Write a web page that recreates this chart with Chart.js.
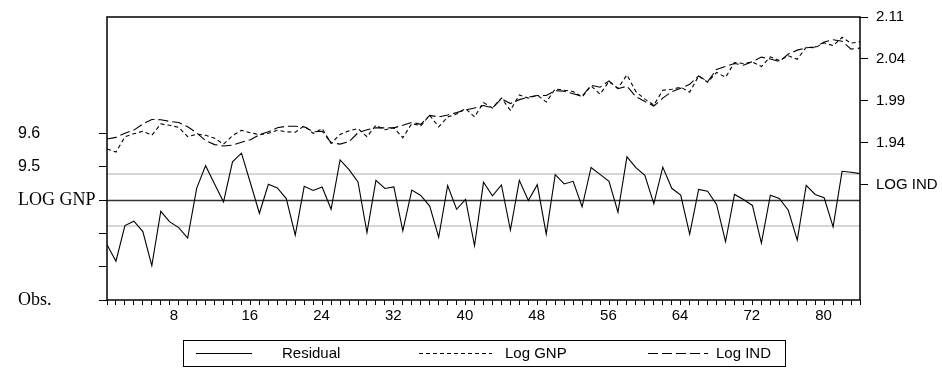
<!DOCTYPE html>
<html>
<head>
<meta charset="utf-8">
<script src="https://cdn.jsdelivr.net/npm/chart.js@4.4.1/dist/chart.umd.min.js"></script>
<style>
  html, body { margin: 0; padding: 0; background: #fff; }
  #wrap { width: 942px; height: 371px; }
</style>
</head>
<body>
<div id="wrap"><canvas id="resChart"></canvas></div>
<script>
// observations 1..85
const obs = Array.from({ length: 85 }, (_, i) => i + 1);

const residual = [
  -0.0268, -0.0367, -0.0153, -0.0127, -0.0189, -0.0393, -0.0067, -0.0131, -0.0165, -0.0228,
  0.0071, 0.0207, 0.0097, -0.0010, 0.0230, 0.0282, 0.0103, -0.0079, 0.0095, 0.0073,
  0.0009, -0.0210, 0.0083, 0.0058, 0.0079, -0.0055, 0.0242, 0.0183, 0.0109, -0.0195,
  0.0119, 0.0070, 0.0079, -0.0185, 0.0060, 0.0028, -0.0036, -0.0224, 0.0088, -0.0055,
  0.0004, -0.0274, 0.0107, 0.0026, 0.0091, -0.0180, 0.0119, -0.0002, 0.0093, -0.0204,
  0.0153, 0.0097, 0.0113, -0.0040, 0.0196, 0.0155, 0.0113, -0.0073, 0.0260, 0.0195,
  0.0149, -0.0021, 0.0198, 0.0071, 0.0030, -0.0204, 0.0064, 0.0054, -0.0026, -0.0250,
  0.0034, 0.0004, -0.0032, -0.0258, 0.0030, 0.0010, -0.0061, -0.0240, 0.0088, 0.0034,
  0.0014, -0.0161, 0.0173, 0.0167, 0.0159
];

const logGNP = [
  1.9326, 1.9290, 1.9473, 1.9508, 1.9538, 1.9491, 1.9626, 1.9609, 1.9585, 1.9473,
  1.9503, 1.9491, 1.9455, 1.9385, 1.9485, 1.9550, 1.9520, 1.9497, 1.9514, 1.9550,
  1.9532, 1.9526, 1.9603, 1.9512, 1.9571, 1.9394, 1.9500, 1.9544, 1.9571, 1.9473,
  1.9609, 1.9556, 1.9579, 1.9461, 1.9630, 1.9603, 1.9729, 1.9591, 1.9709, 1.9744,
  1.9809, 1.9709, 1.9880, 1.9815, 1.9933, 1.9788, 1.9972, 1.9933, 1.9968, 1.9886,
  2.0043, 2.0027, 2.0012, 1.9945, 2.0080, 1.9980, 2.0130, 2.0051, 2.0210, 2.0010,
  1.9921, 1.9850, 2.0027, 2.0039, 2.0063, 2.0004, 2.0198, 2.0122, 2.0240, 2.0181,
  2.0358, 2.0346, 2.0363, 2.0310, 2.0425, 2.0381, 2.0437, 2.0396, 2.0540, 2.0534,
  2.0593, 2.0558, 2.0658, 2.0588, 2.0605
];

const logIND = [
  1.9446, 1.9465, 1.9514, 1.9552, 1.9626, 1.9679, 1.9676, 1.9656, 1.9642, 1.9591,
  1.9520, 1.9426, 1.9379, 1.9363, 1.9373, 1.9408, 1.9438, 1.9497, 1.9532, 1.9579,
  1.9599, 1.9597, 1.9591, 1.9532, 1.9538, 1.9402, 1.9385, 1.9414, 1.9520, 1.9556,
  1.9579, 1.9579, 1.9579, 1.9609, 1.9644, 1.9621, 1.9727, 1.9709, 1.9733, 1.9760,
  1.9792, 1.9815, 1.9845, 1.9815, 1.9927, 1.9868, 1.9915, 1.9945, 1.9965, 1.9965,
  2.0021, 2.0016, 1.9986, 1.9957, 2.0086, 2.0063, 2.0139, 2.0045, 2.0075, 1.9951,
  1.9892, 1.9839, 1.9933, 2.0010, 2.0051, 2.0098, 2.0198, 2.0130, 2.0275, 2.0310,
  2.0346, 2.0326, 2.0369, 2.0422, 2.0399, 2.0369, 2.0458, 2.0505, 2.0534, 2.0543,
  2.0602, 2.0629, 2.0611, 2.0517, 2.0529
];

// residual +/- 1 S.E. band
const residualSD = 0.0155;

// axis ticks (as printed on the original)
const leftTickValues = [-0.06, -0.04, -0.02, 0, 0.02, 0.04];
const leftTickLabels = ["Obs.", "", "", "LOG GNP", "9.5", "9.6"];
const rightTickValues = [1.89, 1.94, 1.99, 2.04, 2.09];
const rightTickLabels = ["LOG IND", "1.94", "1.99", "2.04", "2.11"];
const xLabelStep = 8;

const sans = '"Liberation Sans", Arial, sans-serif';
const serif = '"Liberation Serif", "Times New Roman", serif';

const labelFor = (values, labels, v) => {
  const i = values.findIndex(t => Math.abs(t - v) < 1e-9);
  return i >= 0 ? labels[i] : '';
};

// grey band lines + zero line, then the plot frame
const residualGuides = {
  id: 'residualGuides',
  beforeDatasetsDraw(chart) {
    const { ctx, chartArea: a, scales: { y } } = chart;
    ctx.save();
    ctx.lineWidth = 2;
    ctx.strokeStyle = '#d6d6d6';
    [residualSD, -residualSD].forEach(v => {
      const py = Math.round(y.getPixelForValue(v));
      ctx.beginPath(); ctx.moveTo(a.left, py); ctx.lineTo(a.right, py); ctx.stroke();
    });
    ctx.lineWidth = 1.3;
    ctx.strokeStyle = '#333';
    const pz = Math.round(y.getPixelForValue(0)) + 0.5;
    ctx.beginPath(); ctx.moveTo(a.left, pz); ctx.lineTo(a.right, pz); ctx.stroke();
    ctx.restore();
  },
  afterDatasetsDraw(chart) {
    const { ctx, chartArea: a } = chart;
    ctx.save();
    ctx.lineWidth = 1.5;
    ctx.strokeStyle = '#000';
    ctx.strokeRect(a.left, a.top, a.right - a.left, a.bottom - a.top);
    ctx.restore();
  }
};

// boxed legend under the plot
const boxedLegend = {
  id: 'boxedLegend',
  afterDraw(chart) {
    const ctx = chart.ctx;
    const box = { left: 183, top: 340, width: 602, height: 26 };
    // sample start, sample end, text x for each series
    const slots = [[196, 252, 282], [419, 492, 505], [648, 708, 716]];
    const mid = box.top + box.height / 2 + 0.5;
    ctx.save();
    ctx.strokeStyle = '#000';
    ctx.lineWidth = 1;
    ctx.strokeRect(box.left + 0.5, box.top + 0.5, box.width, box.height);
    ctx.font = '15px ' + sans;
    ctx.textBaseline = 'middle';
    ctx.fillStyle = '#000';
    chart.data.datasets.forEach((ds, i) => {
      const [x0, x1, tx] = slots[i];
      ctx.setLineDash(ds.borderDash || []);
      ctx.beginPath(); ctx.moveTo(x0, mid); ctx.lineTo(x1, mid); ctx.stroke();
      ctx.setLineDash([]);
      ctx.fillText(ds.label, tx, mid);
    });
    ctx.restore();
  }
};

new Chart(document.getElementById('resChart'), {
  type: 'line',
  data: {
    labels: obs,
    datasets: [
      { label: 'Residual', data: residual, yAxisID: 'y', borderColor: '#000', borderWidth: 1.1, pointRadius: 0, tension: 0 },
      { label: 'Log GNP', data: logGNP, yAxisID: 'y1', borderColor: '#000', borderWidth: 1.1, borderDash: [4, 3], pointRadius: 0, tension: 0 },
      { label: 'Log IND', data: logIND, yAxisID: 'y1', borderColor: '#000', borderWidth: 1.1, borderDash: [10, 4], pointRadius: 0, tension: 0 }
    ]
  },
  options: {
    responsive: true,
    maintainAspectRatio: false,
    animation: false,
    layout: { padding: { left: 18, right: 0, top: 14, bottom: 41 } },
    plugins: { legend: { display: false }, tooltip: { enabled: false } },
    scales: {
      x: {
        type: 'category',
        grid: { drawOnChartArea: false, drawTicks: true, tickLength: 5, color: '#000' },
        border: { display: false },
        ticks: {
          autoSkip: false,
          maxRotation: 0,
          align: 'start',
          padding: 2,
          color: '#000',
          font: { family: sans, size: 15 },
          callback(v) {
            const l = this.getLabelForValue(v);
            return l % xLabelStep === 0 ? String(l) : '';
          }
        },
        afterFit(s) { s.height = 30; }
      },
      y: {
        position: 'left',
        min: -0.06,
        max: 0.11,
        grid: { drawOnChartArea: false, tickLength: 8, color: '#000' },
        border: { display: false },
        afterBuildTicks(s) { s.ticks = leftTickValues.map(v => ({ value: v })); },
        ticks: {
          crossAlign: 'far',
          padding: 4,
          color: '#000',
          callback: v => labelFor(leftTickValues, leftTickLabels, v),
          font: c => {
            const l = c.tick ? labelFor(leftTickValues, leftTickLabels, c.tick.value) : '';
            return isNaN(parseFloat(l)) ? { family: serif, size: 18 } : { family: sans, size: 16 };
          }
        },
        afterFit(s) { s.width = 89; }
      },
      y1: {
        position: 'right',
        min: 1.7527,
        max: 2.09,
        grid: { drawOnChartArea: false, tickLength: 8, color: '#000' },
        border: { display: false },
        afterBuildTicks(s) { s.ticks = rightTickValues.map(v => ({ value: v })); },
        ticks: {
          padding: 8,
          color: '#000',
          font: { family: sans, size: 15 },
          callback: v => labelFor(rightTickValues, rightTickLabels, v)
        },
        afterFit(s) { s.width = 82; }
      }
    }
  },
  plugins: [residualGuides, boxedLegend]
});
</script>
</body>
</html>
